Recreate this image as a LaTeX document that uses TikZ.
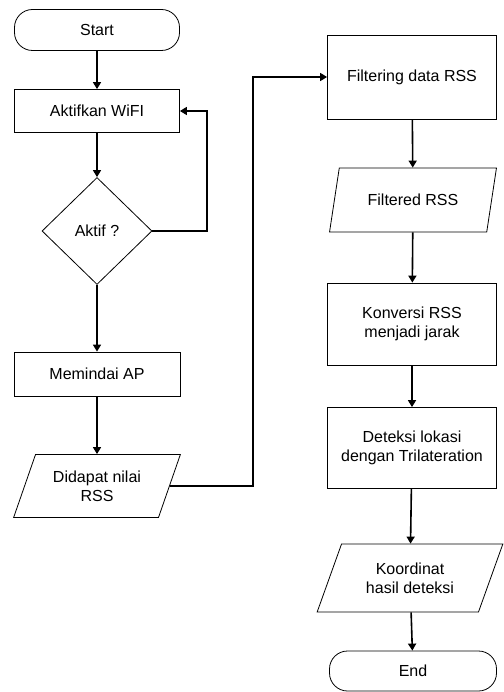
\documentclass[tikz,border=0pt]{standalone}
\usepackage{fontspec}
\setmainfont{Liberation Sans}
\usetikzlibrary{shapes.geometric,arrows.meta}

\tikzset{
  box/.style={draw, line width=0.8pt, align=center, inner sep=0pt},
  terminal/.style={box, rounded corners=18pt},
  process/.style={box, rectangle},
  decision/.style={box, diamond},
  data/.style={box, trapezium, trapezium left angle=63, trapezium right angle=117, trapezium stretches=true},
  conn/.style={line width=1.6pt, ->, >={Triangle[width=8pt,length=7pt]}},
}

\begin{document}
\begin{tikzpicture}[x=1pt, y=-1pt, font=\fontsize{16}{19}\selectfont]
  \useasboundingbox (0,0) rectangle (503,692);

  % Left column
  \node[terminal, minimum width=165, minimum height=41] (start) at (97, 30) {Start};
  \node[process, minimum width=165, minimum height=43] (wifi) at (97, 111) {Aktifkan WiFI};
  \node[decision, minimum width=110, minimum height=107] (aktif) at (97, 231) {Aktif ?};
  \node[process, minimum width=166, minimum height=44] (scan) at (97, 374) {Memindai AP};
  \node[data, minimum width=167, minimum height=63] (rss) at (97, 486) {Didapat nilai\\RSS};

  \draw[conn] (start) -- (wifi);
  \draw[conn] (wifi) -- (aktif);
  \coordinate (loop) at (207, 111);
  \draw[conn] (aktif.east) -| (loop) -- (wifi.east);
  \draw[conn] (aktif) -- (scan);
  \draw[conn] (scan) -- (rss);

  % Right column
  \node[process, minimum width=169, minimum height=84] (filter) at (412, 77) {Filtering data RSS};
  \node[data, minimum width=167, minimum height=64] (frss) at (413, 200) {Filtered RSS};
  \node[process, minimum width=169, minimum height=82] (jarak) at (412, 324) {Konversi RSS\\menjadi jarak};
  \node[process, minimum width=169, minimum height=81] (lokasi) at (412, 448) {Deteksi lokasi\\dengan Trilateration};
  \node[data, minimum width=186, minimum height=68] (koord) at (410, 578) {Koordinat\\hasil deteksi};
  \node[terminal, minimum width=167, minimum height=40] (end) at (413, 671) {End};

  \coordinate (bend) at (253, 77);
  \draw[conn] (rss.east) -| (bend) -- (filter.west);
  \draw[conn] (filter) -- (frss);
  \draw[conn] (frss) -- (jarak);
  \draw[conn] (jarak) -- (lokasi);
  \draw[conn] (lokasi) -- (koord);
  \draw[conn] (koord) -- (end);
\end{tikzpicture}
\end{document}
